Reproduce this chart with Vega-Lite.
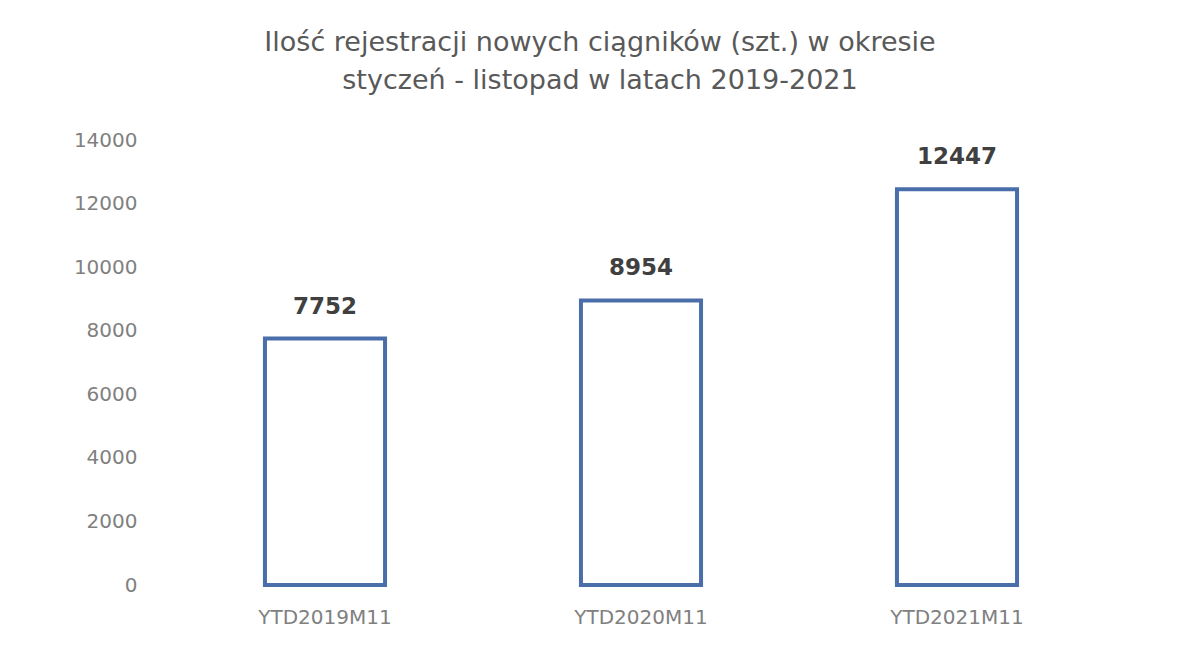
{
  "$schema": "https://vega.github.io/schema/vega-lite/v6.json",
  "width": 948,
  "height": 445,
  "autosize": {"type": "none"},
  "padding": {"left": 167, "top": 140, "right": 85, "bottom": 65},
  "background": "white",
  "config": {"view": {"stroke": null}, "font": "DejaVu Sans"},
  "title": {
    "text": ["Ilość rejestracji nowych ciągników (szt.) w okresie", "styczeń - listopad w latach 2019-2021"],
    "anchor": "middle",
    "dx": -41,
    "offset": 35,
    "fontSize": 27,
    "fontWeight": "normal",
    "color": "#595959",
    "lineHeight": 38,
    "font": "DejaVu Sans"
  },
  "data": {
    "values": [
      {"okres": "YTD2019M11", "ilosc": 7752},
      {"okres": "YTD2020M11", "ilosc": 8954},
      {"okres": "YTD2021M11", "ilosc": 12447}
    ]
  },
  "encoding": {
    "x": {
      "field": "okres", "type": "nominal", "sort": null,
      "scale": {"paddingInner": 0.62, "paddingOuter": 0.31},
      "axis": {"title": null, "labelAngle": 0, "domain": false, "ticks": false, "labelPadding": 22, "labelFontSize": 20, "labelColor": "#808080", "labelFont": "DejaVu Sans", "labelLimit": 300}
    },
    "y": {
      "field": "ilosc", "type": "quantitative",
      "scale": {"domain": [0, 14000]},
      "axis": {"title": null, "values": [0, 2000, 4000, 6000, 8000, 10000, 12000, 14000], "format": "d", "domain": false, "ticks": false, "grid": false, "labelPadding": 30, "labelFontSize": 20, "labelColor": "#808080", "labelFont": "DejaVu Sans"}
    }
  },
  "layer": [
    {"mark": {"type": "bar", "fill": "white", "stroke": "#4a6eaa", "strokeWidth": 4}},
    {"mark": {"type": "text", "baseline": "alphabetic", "dy": -25, "fontSize": 23, "fontWeight": "bold", "color": "#404040", "font": "DejaVu Sans"},
     "encoding": {"text": {"field": "ilosc", "type": "quantitative", "format": "d"}}}
  ]
}
